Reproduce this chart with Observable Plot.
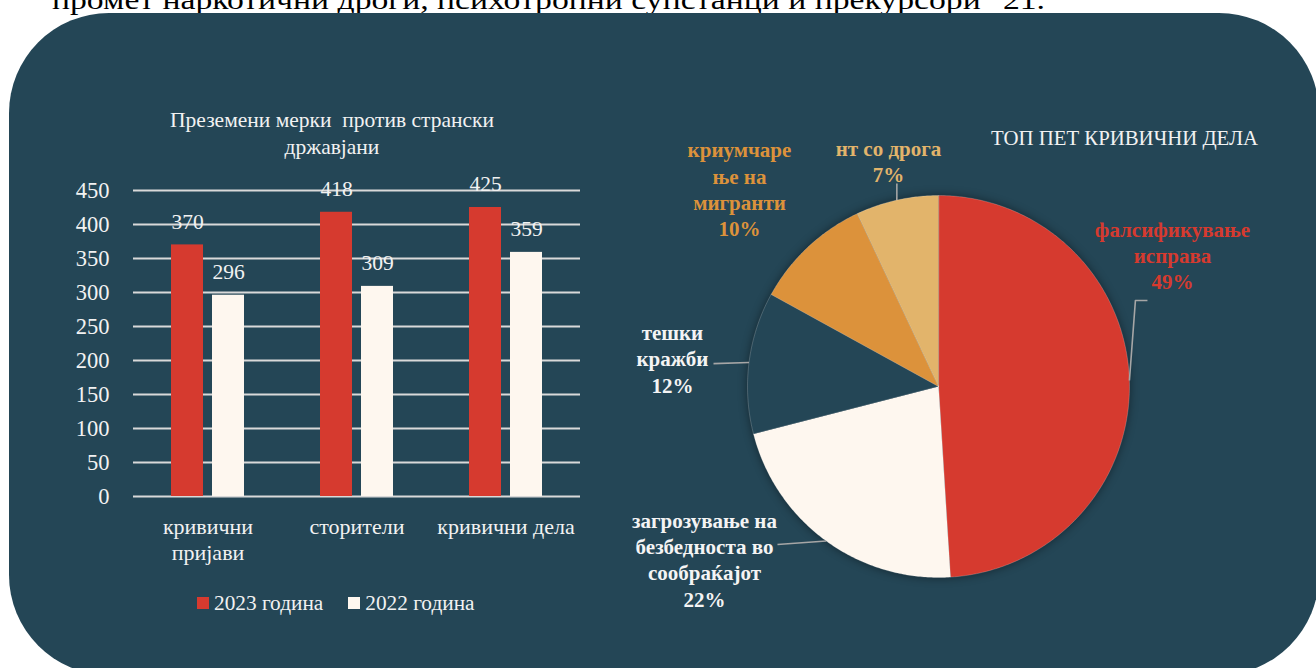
<!DOCTYPE html>
<html lang="mk"><head><meta charset="utf-8">
<script src="https://cdn.jsdelivr.net/npm/d3@7"></script>
<script src="https://cdn.jsdelivr.net/npm/@observablehq/plot@0.6"></script>
<style>
html,body{margin:0;padding:0;background:#fff;}
#root{position:relative;width:1316px;height:668px;overflow:hidden;font-family:"Liberation Serif",serif;}
#bg{position:absolute;left:9px;top:13px;width:1310px;height:662px;border-radius:100px;background:#244656;}
.abs{position:absolute;white-space:nowrap;}
#topline{left:0;top:0;}
#barTitle{left:132px;top:107px;width:400px;text-align:center;color:#f2f2f2;font-size:21.5px;line-height:27px;}
#pieTitle{left:991px;top:126px;color:#f2f2f2;font-size:20.8px;}
#legend{left:197px;top:590px;color:#f2f2f2;font-size:21.3px;line-height:26px;display:flex;align-items:center;}
.sw{display:inline-block;width:11.5px;height:11.5px;margin-right:5.5px;}
.item{display:flex;align-items:center;margin-right:25px;}
#barChart{left:0;top:170px;}
#pieChart{left:600px;top:100px;}
#pieChart g[aria-label="line"]:first-of-type{filter:drop-shadow(0 0 5px rgba(0,0,0,0.45));}
</style></head><body>
<div id="root">
  <div id="topline" class="abs"></div>
  <div id="bg"></div>
  <div id="barTitle" class="abs">Преземени мерки&nbsp; против странски<br>државјани</div>
  <div id="barChart" class="abs"></div>
  <div id="legend" class="abs"></div>
  <div id="pieTitle" class="abs">ТОП ПЕТ КРИВИЧНИ ДЕЛА</div>
  <div id="pieChart" class="abs"></div>
</div>
<script>
// ---------- data ----------
const topText = "промет наркотични дроги, психотропни супстанци и прекурсори\" 21.";
const categories = ["кривични\nпријави", "сторители", "кривични дела"];
const years = ["2023 година", "2022 година"];
const values2023 = [370, 418, 425];
const values2022 = [296, 309, 359];
const yTicks = [0, 50, 100, 150, 200, 250, 300, 350, 400, 450];
const yearColors = ["#d63a2f", "#fef7ef"];

const sliceNames = ["фалсификување\nисправа", "загрозување на\nбезбедноста во\nсообраќајот", "тешки\nкражби", "криумчаре\nње на\nмигранти", "нт со дрога"];
const slicePercents = [49, 22, 12, 10, 7];
const sliceColors = ["#d63a2f", "#fef7ef", "#244656", "#dc923b", "#e2b46b"];
const labelColors = ["#d63a2f", "#f4f4f4", "#f4f4f4", "#dc923b", "#e2b46b"];

// ---------- layout (pie units, radius = 1) ----------
const labelLayout = [[1.225, 0.691], [-1.225, -0.903], [-1.393, 0.149], [-1.042, 1.037], [-0.262, 1.183]];
const leaderLayout = [[[1.031, 0.450], [1.094, 0.450]], [[-0.843, -0.827]], [[-1.178, 0.120]], null, [[-0.218, 1.063]]];

// ---------- top cut-off line ----------
const ns = "http://www.w3.org/2000/svg";
const ts = document.createElementNS(ns, "svg");
ts.setAttribute("width", 1316); ts.setAttribute("height", 20);
const tt = document.createElementNS(ns, "text");
tt.setAttribute("x", 52); tt.setAttribute("y", 9);
tt.setAttribute("textLength", 993); tt.setAttribute("lengthAdjust", "spacingAndGlyphs");
tt.setAttribute("font-family", "Liberation Serif"); tt.setAttribute("font-size", 28);
tt.textContent = topText;
ts.appendChild(tt);
document.getElementById("topline").appendChild(ts);

// ---------- bar chart ----------
const rows = categories.flatMap((c, i) => [
  {cat: c, year: years[0], value: values2023[i]},
  {cat: c, year: years[1], value: values2022[i]}
]);
const bar = Plot.plot({
  width: 600, height: 400,
  marginTop: 20, marginBottom: 74, marginLeft: 132, marginRight: 20,
  style: {background: "transparent", color: "#f2f2f2", fontFamily: "Liberation Serif", overflow: "visible"},
  fx: {domain: categories, padding: 0, axis: null, label: null},
  x: {domain: years, paddingInner: 0.214, paddingOuter: 0.881, axis: null},
  y: {domain: [0, 450], axis: null, label: null},
  color: {domain: years, range: yearColors},
  marks: [
    Plot.gridY(yTicks, {stroke: "#d9d9d9", strokeOpacity: 1, strokeWidth: 2}),
    Plot.axisY(yTicks, {tickSize: 0, tickPadding: 24, fontSize: 22.5, label: null, fill: "#f2f2f2"}),
    Plot.barY(rows, {fx: "cat", x: "year", y: "value", fill: "year"}),
    Plot.text(rows, {fx: "cat", x: "year", y: "value", text: d => String(d.value), dy: -23, fill: "#f2f2f2", fontSize: 21.5}),
    Plot.text(categories, {fx: d => d, text: d => d, frameAnchor: "bottom", lineAnchor: "top", dy: 19, fontSize: 22, lineHeight: 1.18, fill: "#f2f2f2"})
  ]
});
document.getElementById("barChart").appendChild(bar);

// legend
const lg = document.getElementById("legend");
years.forEach((y, i) => {
  const it = document.createElement("div"); it.className = "item";
  const sw = document.createElement("span"); sw.className = "sw"; sw.style.background = yearColors[i];
  const lb = document.createElement("span"); lb.textContent = y;
  it.appendChild(sw); it.appendChild(lb); lg.appendChild(it);
});

// ---------- pie chart ----------
const arcs = d3.pie().sort(null).value(d => d)(slicePercents);
const piePts = arcs.flatMap((a, i) => {
  const n = Math.max(2, Math.ceil((a.endAngle - a.startAngle) / 0.01));
  const pts = [{slice: i, x: 0, y: 0}];
  for (let k = 0; k <= n; k++) {
    const t = a.startAngle + (a.endAngle - a.startAngle) * k / n;
    pts.push({slice: i, x: Math.sin(t), y: Math.cos(t)});
  }
  return pts;
});
const leaderRows = arcs.flatMap((a, i) => {
  if (!leaderLayout[i]) return [];
  const m = (a.startAngle + a.endAngle) / 2;
  return [{slice: i, x: Math.sin(m), y: Math.cos(m)}, ...leaderLayout[i].map(p => ({slice: i, x: p[0], y: p[1]}))];
});
const labelRows = arcs.map((a, i) => ({
  slice: i, x: labelLayout[i][0], y: labelLayout[i][1],
  text: sliceNames[i] + "\n" + slicePercents[i] + "%"
}));
const pie = Plot.plot({
  width: 716, height: 540,
  style: {background: "transparent", fontFamily: "Liberation Serif", overflow: "visible"},
  x: {domain: [-1, 1], range: [147, 529], axis: null},
  y: {domain: [-1, 1], range: [477, 95], axis: null},
  color: {type: "ordinal", domain: d3.range(5), range: sliceColors},
  marks: [
    Plot.line(piePts, {x: "x", y: "y", z: "slice", fill: "slice", stroke: "rgba(255,255,255,0.25)", strokeWidth: 0.8, curve: "linear-closed"}),
    Plot.line(leaderRows, {x: "x", y: "y", z: "slice", stroke: "#a6a6a6", strokeWidth: 1.6, strokeLinecap: "butt"}),
    Plot.text(labelRows, {x: "x", y: "y", text: "text", fill: d => labelColors[d.slice], fontSize: 21, fontWeight: "bold", lineHeight: 1.25})
  ]
});
document.getElementById("pieChart").appendChild(pie);
</script>
</body></html>
